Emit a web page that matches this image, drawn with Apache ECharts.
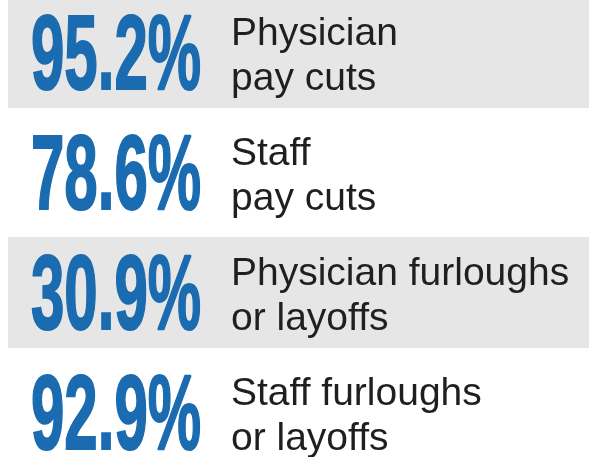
<!DOCTYPE html>
<html>
<head>
<meta charset="utf-8">
<script src="https://cdn.jsdelivr.net/npm/echarts@6/dist/echarts.min.js"></script>
<style>
	html, body { margin: 0; padding: 0; background: #fff; }
	#chart { width: 596px; height: 457px; }
</style>
</head>
<body>
<div id="chart"></div>
<script>
// share of practices reporting each measure
const categories = ['Physician\npay cuts', 'Staff\npay cuts', 'Physician furloughs\nor layoffs', 'Staff furloughs\nor layoffs'];
const percents = [95.2, 78.6, 30.9, 92.9];

const blue = '#1a6bb0';
const bandGray = '#e6e6e6';
const textColor = '#1f1f1f';

var chartDom = document.getElementById('chart');
var myChart = echarts.init(chartDom, null, { renderer: 'canvas' });

function renderRow(params, api) {
	let idx = api.value(0);
	let val = api.value(1);
	let cy = api.coord([0, idx])[1];
	let rowH = api.size([0, 1])[1];
	let children = [];

	// every other row gets the gray band
	if (idx % 2 === 0) {
		children.push({
			type: 'rect',
			shape: { x: 8, y: cy - 55, width: 581, height: 111 },
			style: { fill: bandGray },
		});
	}
	children.push({
		type: 'text',
		x: 31,
		y: cy + 8,
		scaleX: 0.566,
		style: {
			text: val.toFixed(1) + '%',
			fill: blue,
			stroke: blue,
			lineWidth: 2,
			fontFamily: '"Liberation Sans Narrow", "Liberation Sans", Arial, sans-serif',
			fontWeight: 'bold',
			fontSize: 106,
			align: 'left',
			verticalAlign: 'middle',
		},
	});
	children.push({
		type: 'text',
		x: 231,
		y: cy + 5,
		style: {
			text: categories[idx],
			fill: textColor,
			fontFamily: '"Liberation Sans", Arial, sans-serif',
			fontSize: 39,
			lineHeight: 45,
			align: 'left',
			verticalAlign: 'middle',
		},
	});
	return { type: 'group', children: children };
}

var option = {
	animation: false,
	backgroundColor: '#fff',
	grid: { left: 0, right: 0, top: 0, bottom: 0 },
	xAxis: { type: 'value', min: 0, max: 100, show: false },
	// rows are 120px apart, first row centred at y=52
	yAxis: { type: 'value', inverse: true, min: -0.4333, max: 3.375, show: false },
	series: [
		{
			type: 'custom',
			renderItem: renderRow,
			encode: { x: 1, y: 0 },
			data: percents.map((v, i) => [i, v]),
			clip: false,
		},
	],
};
option && myChart.setOption(option);
</script>
</body>
</html>
